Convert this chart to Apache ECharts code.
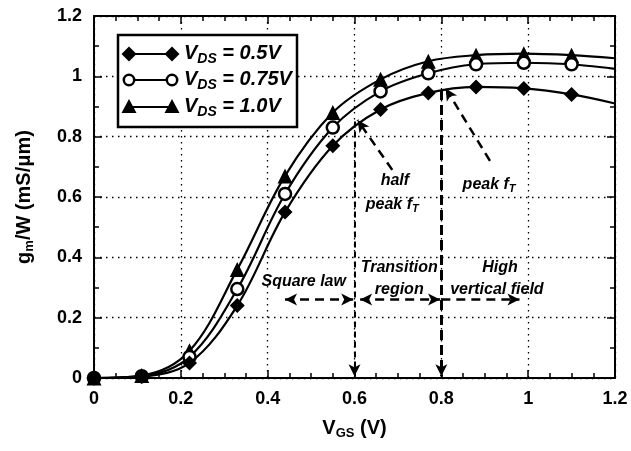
<!DOCTYPE html>
<html><head><meta charset="utf-8">
<script src="https://cdn.jsdelivr.net/npm/echarts@6/dist/echarts.min.js"></script>
<style>html,body{margin:0;padding:0;background:#fff}#c{width:631px;height:451px}</style>
</head><body><div id="c"></div>
<script>
const vgs = [0, 0.11, 0.22, 0.33, 0.44, 0.55, 0.66, 0.77, 0.88, 0.99, 1.1, 1.2];
const gm05 = [0, 0.005, 0.05, 0.24, 0.55, 0.77, 0.89, 0.945, 0.965, 0.96, 0.94, 0.91];
const gm075 = [0, 0.006, 0.07, 0.295, 0.61, 0.83, 0.95, 1.01, 1.04, 1.045, 1.04, 1.025];
const gm10 = [0, 0.008, 0.09, 0.36, 0.67, 0.88, 0.99, 1.05, 1.07, 1.075, 1.07, 1.06];
const xTicks = [0, 0.2, 0.4, 0.6, 0.8, 1, 1.2];
const yTicks = [0, 0.2, 0.4, 0.6, 0.8, 1, 1.2];
const legendNames = ['0.5V', '0.75V', '1.0V'];
const annotations = [
  {x: 0.693, y: 0.655, text: 'half'},
  {x: 0.687, y: 0.575, text: 'peak f{s|T}'},
  {x: 0.91, y: 0.64, text: 'peak f{s|T}'},
  {x: 0.483, y: 0.318, text: 'Square law'},
  {x: 0.703, y: 0.365, text: 'Transition'},
  {x: 0.703, y: 0.292, text: 'region'},
  {x: 0.935, y: 0.365, text: 'High'},
  {x: 0.928, y: 0.292, text: 'vertical field'}
];

const FONT = '"Liberation Sans", Arial, sans-serif';
const chart = echarts.init(document.getElementById('c'), null, {renderer: 'canvas'});

function mkData(ys) {
  return vgs.map((x, i) => i === vgs.length - 1 ? {value: [x, ys[i]], symbol: 'none'} : [x, ys[i]]);
}
const ml = (a, b, sa, sb, w, dash) => [
  {coord: a, symbol: sa, lineStyle: {width: w, type: dash, color: '#000'}},
  {coord: b, symbol: sb}
];
const gridLine = {show: true, lineStyle: {color: '#000', width: 1.3, type: [1.5, 4.5], opacity: 1}};
const axisCommon = {
  type: 'value', min: 0, max: 1.2, interval: 0.2,
  axisLine: {show: true, onZero: false, lineStyle: {color: '#000', width: 2}},
  axisTick: {show: true, inside: true, length: 8, lineStyle: {color: '#000', width: 1.5}},
  minorTick: {show: true, length: 5, lineStyle: {color: '#000', width: 1.5}}
};
const nameStyle = {
  fontFamily: FONT, fontWeight: 'bold', fontSize: 20, color: '#000',
  rich: {
    s: {fontFamily: FONT, fontWeight: 'bold', fontSize: 13, color: '#000', padding: [11, 0, 0, 0]}
  }
};
const tickLabel = (list) => ({color: '#000', fontFamily: FONT, fontWeight: 'bold', fontSize: 18, margin: 12,
  formatter: v => list.includes(+(+v).toFixed(2)) ? String(+(+v).toFixed(2)) : ''});

chart.setOption({
  animation: false,
  backgroundColor: '#fff',
  grid: {left: 94, right: 16, top: 16, bottom: 73},
  xAxis: [
    Object.assign({}, axisCommon, {
      position: 'bottom',
      minorTick: Object.assign({}, axisCommon.minorTick, {splitNumber: 4}),
      splitLine: gridLine,
      axisLabel: tickLabel(xTicks),
      name: 'V{s|GS} (V)', nameLocation: 'middle', nameGap: 38,
      nameTextStyle: nameStyle
    }),
    Object.assign({}, axisCommon, {
      position: 'top', axisLabel: {show: false}, splitLine: {show: false},
      minorTick: Object.assign({}, axisCommon.minorTick, {splitNumber: 4})
    })
  ],
  yAxis: [
    Object.assign({}, axisCommon, {
      position: 'left',
      minorTick: Object.assign({}, axisCommon.minorTick, {splitNumber: 2}),
      splitLine: gridLine,
      axisLabel: tickLabel(yTicks),
      name: 'g{s|m}/W (mS/μm)', nameLocation: 'middle', nameGap: 58, nameRotate: 90,
      nameTextStyle: nameStyle
    }),
    Object.assign({}, axisCommon, {
      position: 'right', axisLabel: {show: false}, splitLine: {show: false},
      minorTick: Object.assign({}, axisCommon.minorTick, {splitNumber: 2})
    })
  ],
  series: [
    {
      name: legendNames[0], type: 'line', data: mkData(gm05), smooth: 0.35,
      symbol: 'diamond', symbolSize: 15, color: '#000',
      lineStyle: {color: '#000', width: 2.2}, itemStyle: {color: '#000'}, z: 5,
      markLine: {
        silent: true, symbolSize: [9, 12], label: {show: false}, animation: false,
        lineStyle: {color: '#000'},
        data: [
          ml([0.6, 0.85], [0.6, 0.006], 'none', 'arrow', 2, [6, 4]),
          ml([0.8, 0.955], [0.8, 0.006], 'none', 'arrow', 3, [10, 5]),
          ml([0.687, 0.69], [0.607, 0.855], 'none', 'arrow', 2.5, [9, 6]),
          ml([0.912, 0.72], [0.81, 0.96], 'none', 'arrow', 2.5, [9, 6]),
          ml([0.44, 0.26], [0.597, 0.26], 'arrow', 'arrow', 2.5, [9, 6]),
          ml([0.613, 0.26], [0.797, 0.26], 'arrow', 'arrow', 2.5, [9, 6]),
          ml([0.8, 0.26], [0.98, 0.26], 'none', 'arrow', 2.5, [9, 6])
        ]
      }
    },
    {
      name: legendNames[1], type: 'line', data: mkData(gm075), smooth: 0.35,
      symbol: 'circle', symbolSize: 12, color: '#000',
      lineStyle: {color: '#000', width: 2.2}, itemStyle: {color: '#fff', borderColor: '#000', borderWidth: 2.5}, z: 4
    },
    {
      name: legendNames[2], type: 'line', data: mkData(gm10), smooth: 0.35,
      symbol: 'triangle', symbolSize: 15, color: '#000',
      lineStyle: {color: '#000', width: 2.2}, itemStyle: {color: '#000'}, z: 3
    }
  ]
});

// annotation texts positioned through the chart's own coordinate conversion
const annRich = {
  s: {fontFamily: FONT, fontWeight: 'bold', fontStyle: 'italic', fontSize: 11, color: '#000', padding: [9, 0, 0, 0]}
};
const gr = [];
annotations.forEach(a => {
  const p = chart.convertToPixel({xAxisIndex: 0, yAxisIndex: 0}, [a.x, a.y]);
  gr.push({type: 'text', x: p[0], y: p[1], z: 90,
    style: {text: a.text, rich: annRich, fill: '#000',
      fontFamily: FONT, fontWeight: 'bold', fontStyle: 'italic', fontSize: 16,
      align: 'center', verticalAlign: 'middle'}});
});

// Legend drawn as a framed box with line + two markers per entry
const legRich = {
  v: {fontFamily: FONT, fontWeight: 'bold', fontStyle: 'italic', fontSize: 20, color: '#000'},
  s: {fontFamily: FONT, fontWeight: 'bold', fontStyle: 'italic', fontSize: 14, color: '#000', padding: [11, 0, 0, 0]}
};
const kinds = ['diamond', 'circle', 'triangle'];
function markerShape(kind, cx, cy) {
  if (kind === 'diamond') return {type: 'polygon', shape: {points: [[cx, cy - 7.5], [cx + 7.5, cy], [cx, cy + 7.5], [cx - 7.5, cy]]}, style: {fill: '#000'}};
  if (kind === 'circle') return {type: 'circle', shape: {cx, cy, r: 5.2}, style: {fill: '#fff', stroke: '#000', lineWidth: 2.5}};
  return {type: 'polygon', shape: {points: [[cx, cy - 8], [cx + 7.5, cy + 6], [cx - 7.5, cy + 6]]}, style: {fill: '#000'}};
}
gr.push({type: 'rect', shape: {x: 118, y: 35, width: 179, height: 92}, style: {fill: '#fff', stroke: '#000', lineWidth: 2.5}, z: 100});
const rowsY = [54, 80, 107];
legendNames.forEach((nm, i) => {
  const y = rowsY[i];
  gr.push({type: 'line', shape: {x1: 129, y1: y, x2: 172, y2: y}, style: {stroke: '#000', lineWidth: 2.2}, z: 101});
  const m1 = markerShape(kinds[i], 129, y); m1.z = 102; gr.push(m1);
  const m2 = markerShape(kinds[i], 172, y); m2.z = 102; gr.push(m2);
  gr.push({type: 'text', x: 184, y: y - 13, z: 102,
    style: {text: '{v|V}{s|DS}{v| = ' + nm + '}', rich: legRich, fill: '#000'}});
});
chart.setOption({graphic: gr});
</script>
</body></html>
